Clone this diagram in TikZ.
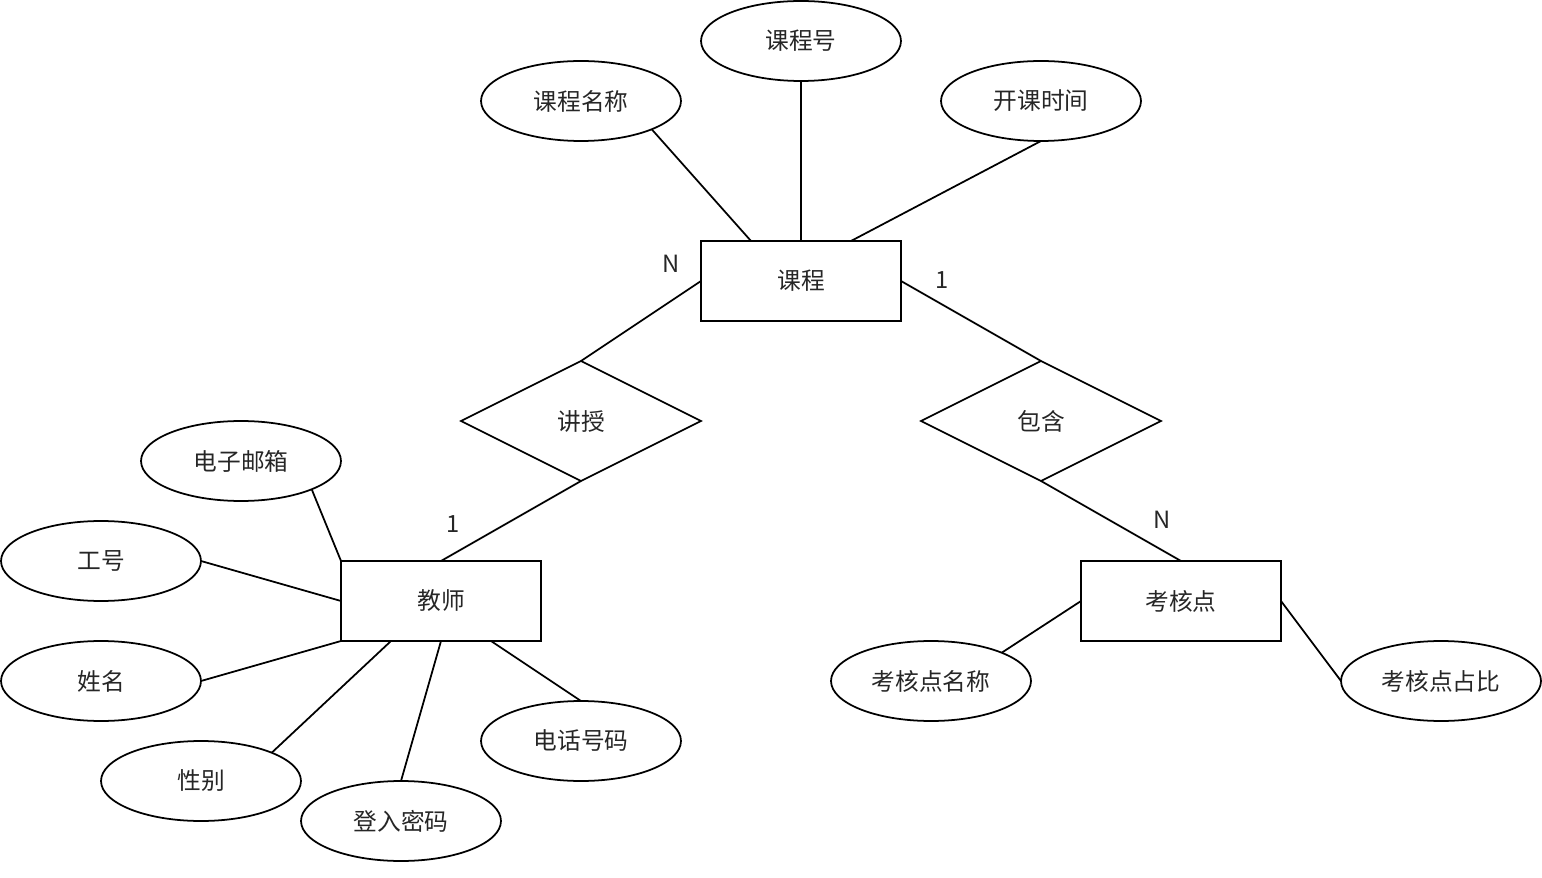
\documentclass[tikz,border=0pt]{standalone}
\usepackage{fontspec}
\setmainfont{Noto Sans CJK SC}
\usepackage{tikz}
\usetikzlibrary{shapes.geometric, calc}

\begin{document}
\begin{tikzpicture}[x=0.02cm, y=-0.02cm, line width=1pt,
  every node/.style={font=\fontsize{13.5}{16}\selectfont, text=black!85},
  entity/.style={draw, rectangle, minimum width=4cm, minimum height=1.6cm, inner sep=0pt, outer sep=0pt},
  attr/.style={draw, ellipse, minimum width=4cm, minimum height=1.6cm, inner sep=0pt, outer sep=0pt},
  rel/.style={draw, diamond, minimum width=4.8cm, minimum height=2.4cm, inner sep=0pt, outer sep=0pt},
  card/.style={inner sep=0pt}]
\useasboundingbox (0,0) rectangle (1542,878);
% entities
\node[entity] (kc) at (801,281) {课程};
\node[entity] (js) at (441,601) {教师};
\node[entity] (khd) at (1181,601) {考核点};
% relationships
\node[rel] (jiangshou) at (581,421) {讲授};
\node[rel] (baohan) at (1041,421) {包含};
% attributes of 课程
\node[attr] (kcmc) at (581,101) {课程名称};
\node[attr] (kch) at (801,41) {课程号};
\node[attr] (kksj) at (1041,101) {开课时间};
% attributes of 教师
\node[attr] (dzyx) at (241,461) {电子邮箱};
\node[attr] (gh) at (101,561) {工号};
\node[attr] (xm) at (101,681) {姓名};
\node[attr] (xb) at (201,781) {性别};
\node[attr] (dlmm) at (401,821) {登入密码};
\node[attr] (dhhm) at (581,741) {电话号码};
% attributes of 考核点
\node[attr] (khdmc) at (931,681) {考核点名称};
\node[attr] (khdzb) at (1441,681) {考核点占比};
% connectors
\draw (kcmc.south east) -- ($(kc.north west)!0.25!(kc.north east)$);
\draw (kch.south) -- (kc.north);
\draw (kksj.south) -- ($(kc.north west)!0.75!(kc.north east)$);
\draw (kc.west) -- (jiangshou.north);
\draw (jiangshou.south) -- (js.north);
\draw (kc.east) -- (baohan.north);
\draw (baohan.south) -- (khd.north);
\draw (dzyx.south east) -- (js.north west);
\draw (gh.east) -- (js.west);
\draw (xm.east) -- (js.south west);
\draw (xb.north east) -- ($(js.south west)!0.25!(js.south east)$);
\draw (dlmm.north) -- (js.south);
\draw (dhhm.north) -- ($(js.south west)!0.75!(js.south east)$);
\draw (khdmc.north east) -- (khd.west);
\draw (khdzb.west) -- (khd.east);
% cardinalities
\node[card] (n1) at (671,264) {N};
\node[card] (c1) at (942,280) {1};
\node[card] (c2) at (453,524) {1};
\node[card] (n2) at (1162,520) {N};
\end{tikzpicture}
\end{document}
